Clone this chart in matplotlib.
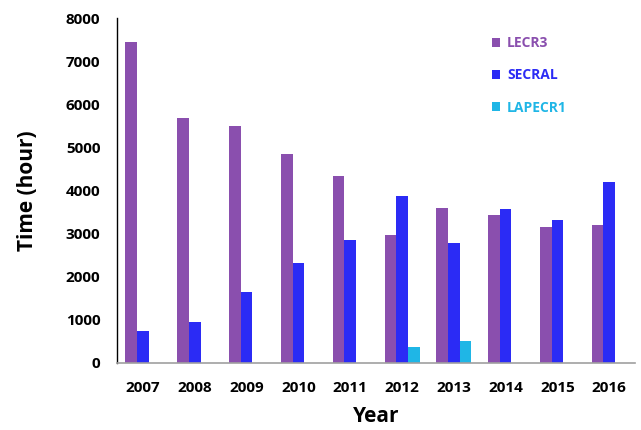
import matplotlib.pyplot as plt
import numpy as np

# Годы и наработка источников (часы)
years = ["2007", "2008", "2009", "2010", "2011", "2012", "2013", "2014", "2015", "2016"]
lecr3 = [7440, 5680, 5500, 4850, 4340, 2970, 3600, 3430, 3145, 3205]
secral = [730, 960, 1640, 2320, 2840, 3880, 2775, 3570, 3320, 4200]
lapecr1 = [0, 0, 0, 0, 0, 360, 510, 0, 0, 0]

series_names = ["LECR3", "SECRAL", "LAPECR1"]
colors = ["#8A4FAE", "#2B2BF5", "#1FB6E6"]

plt.rcParams["font.family"] = ["Open Sans", "DejaVu Sans"]


def main() -> None:
    fig = plt.figure(figsize=(6.41, 4.30), dpi=100)
    ax = fig.add_axes([0.1825, 0.156, 0.8085, 0.802])

    x = np.arange(len(years))
    w = 0.225
    for i, (vals, name, col) in enumerate(zip([lecr3, secral, lapecr1], series_names, colors)):
        ax.bar(x + (i - 1) * w, vals, width=w, color=col, label=name)

    ax.set_xlim(-0.5, len(years) - 0.5)
    ax.set_ylim(0, 8000)
    ax.set_yticks(range(0, 8001, 1000))
    ax.set_xticks(x)
    ax.set_xticklabels(years)
    ax.tick_params(length=0, labelsize=11, pad=13)
    ax.tick_params(axis="y", pad=12)
    for lab in ax.get_xticklabels() + ax.get_yticklabels():
        lab.set_fontweight("bold")

    ax.spines["top"].set_visible(False)
    ax.spines["right"].set_visible(False)
    ax.spines["left"].set_color("black")
    ax.spines["left"].set_linewidth(1.0)
    ax.spines["bottom"].set_color("#a0a0a0")
    ax.spines["bottom"].set_linewidth(1.2)

    ax.set_xlabel("Year", fontsize=15, fontweight="bold", labelpad=8)
    ax.set_ylabel("Time (hour)", fontsize=15, fontweight="bold", labelpad=20)

    leg = ax.legend(loc="upper left", bbox_to_anchor=(0.699, 0.983), frameon=False,
                    handlelength=0.6, handleheight=0.6, handletextpad=0.5,
                    labelspacing=1.3, prop={"weight": "bold", "size": 10})
    for txt, col in zip(leg.get_texts(), colors):
        txt.set_color(col)

    fig.savefig("out.png", dpi=100)


if __name__ == "__main__":
    main()
